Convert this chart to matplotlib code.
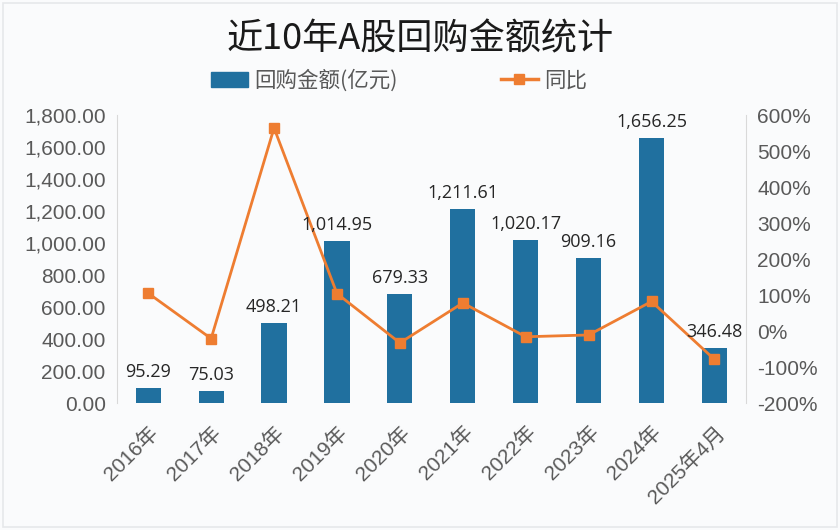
import matplotlib
matplotlib.use("Agg")
import matplotlib.pyplot as plt
from matplotlib.patches import Rectangle
from matplotlib.lines import Line2D
from matplotlib.ticker import FuncFormatter, MultipleLocator

plt.rcParams["font.family"] = ["Liberation Sans", "Noto Sans CJK SC", "DejaVu Sans"]

years = ["2016年", "2017年", "2018年", "2019年", "2020年",
         "2021年", "2022年", "2023年", "2024年", "2025年4月"]
amount = [95.29, 75.03, 498.21, 1014.95, 679.33,
          1211.61, 1020.17, 909.16, 1656.25, 346.48]
yoy = [105, -21, 564, 104, -33, 78, -16, -11, 82, -79]

BAR = "#20709f"
LINE = "#ee7d31"
TXT = "#595959"
CJK = ["Noto Sans CJK SC", "DejaVu Sans"]

fig = plt.figure(figsize=(8.4, 5.3), dpi=100, facecolor="#fafbfc")
fig.patches.append(Rectangle((0.004, 0.006), 0.992, 0.988, transform=fig.transFigure,
                             fill=False, ec="#e6e8ea", lw=1.2))
ax = fig.add_axes([0.139, 0.2396, 0.749, 0.5434])
ax.set_facecolor("none")
x = list(range(len(years)))
ax.bar(x, amount, width=0.4, color=BAR, zorder=2)
ax.set_xlim(-0.5, 9.5)
ax.set_ylim(0, 1800)
ax.yaxis.set_major_locator(MultipleLocator(200))
ax.yaxis.set_major_formatter(FuncFormatter(lambda v, p: f"{v:,.2f}"))
ax.tick_params(axis="y", length=0, labelsize=15, colors=TXT, pad=8)
ax.set_xticks(x)
ax.set_xticklabels(years, rotation=45, ha="right", va="top", rotation_mode="anchor",
                   fontsize=15, color=TXT, family=["Liberation Sans", "Noto Sans CJK SC"])
ax.tick_params(axis="x", length=0, pad=14)
for s in ["top", "bottom", "right"]:
    ax.spines[s].set_visible(False)
ax.spines["left"].set_color("#d9d9d9")

ax2 = ax.twinx()
ax2.plot(x, yoy, color=LINE, lw=2, marker="s", ms=7, zorder=3)
ax2.set_ylim(-200, 600)
ax2.yaxis.set_major_locator(MultipleLocator(100))
ax2.yaxis.set_major_formatter(FuncFormatter(lambda v, p: f"{v:.0f}%"))
ax2.tick_params(axis="y", length=0, labelsize=15, colors=TXT, pad=8)
for s in ["top", "bottom", "left"]:
    ax2.spines[s].set_visible(False)
ax2.spines["right"].set_color("#d9d9d9")

# data labels drawn on ax2 so they sit above the line
for xi, v in zip(x, amount):
    ax2.annotate(f"{v:,.2f}", (xi, v), xycoords=ax.transData, xytext=(0, 5),
                 textcoords="offset points", ha="center", va="bottom", fontsize=13,
                 color="#262626", family=["Open Sans", "DejaVu Sans"], zorder=5)

fig.text(0.5, 0.925, "近10年A股回购金额统计", ha="center", va="center",
         fontsize=26, color="#1a1a1a", family=CJK)
handles = [Rectangle((0, 0), 1, 1, color=BAR),
           Line2D([], [], color=LINE, lw=2.5, marker="s", ms=7)]
leg = fig.legend(handles, ["回购金额(亿元)", "同比"], loc="center", bbox_to_anchor=(0.475, 0.848),
                 ncol=2, frameon=False, handlelength=1.7, columnspacing=4.8,
                 handletextpad=0.3, prop={"family": CJK, "size": 15.5})
for t in leg.get_texts():
    t.set_color(TXT)

fig.savefig("out.png", dpi=100, facecolor=fig.get_facecolor())
